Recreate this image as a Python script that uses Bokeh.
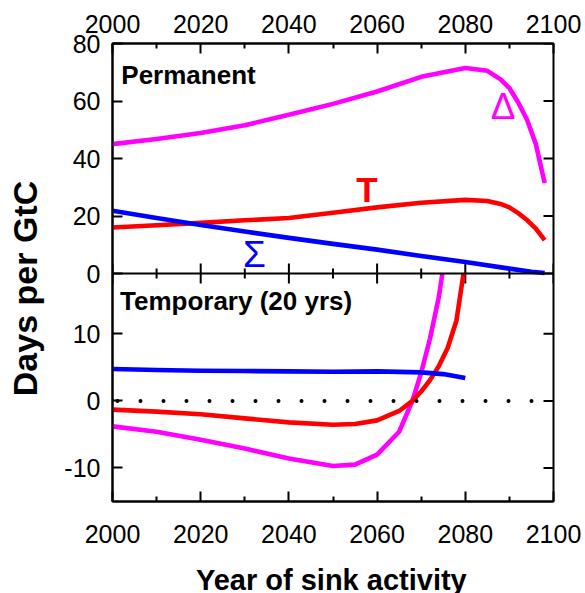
import math
from bokeh.plotting import figure
from bokeh.models import Range1d, LinearAxis, FixedTicker, Label, Span
from bokeh.layouts import row, column
from bokeh.embed import file_html
from bokeh.resources import INLINE

# ---------------- data ----------------
# Permanent panel
perm_delta_years = [2000, 2010, 2020, 2030, 2040, 2050, 2060, 2070, 2080, 2085, 2088, 2090, 2092, 2094, 2096, 2098]
perm_delta_vals = [45.0, 46.8, 48.9, 51.6, 55.2, 59.0, 63.3, 68.4, 71.5, 70.5, 67.5, 64.5, 59.5, 53.5, 45.0, 31.5]

perm_T_years = [2000, 2010, 2020, 2030, 2040, 2050, 2060, 2070, 2080, 2085, 2088, 2090, 2092, 2094, 2096, 2098]
perm_T_vals = [16.0, 16.8, 17.6, 18.5, 19.3, 21.1, 23.0, 24.6, 25.6, 25.2, 24.2, 23.0, 21.0, 18.6, 15.6, 11.6]

perm_sigma_years = [2000, 2010, 2020, 2030, 2040, 2050, 2060, 2070, 2080, 2090, 2095, 2098]
perm_sigma_vals = [21.8, 19.3, 16.9, 14.6, 12.4, 10.3, 8.3, 6.1, 4.0, 1.7, 0.6, 0.2]

# Temporary (20 yrs) panel
temp_sigma_years = [2000, 2010, 2020, 2030, 2040, 2050, 2060, 2070, 2075, 2080]
temp_sigma_vals = [4.75, 4.6, 4.5, 4.45, 4.4, 4.35, 4.4, 4.25, 4.0, 3.4]

temp_T_years = [2000, 2010, 2020, 2030, 2040, 2050, 2055, 2060, 2065, 2068, 2070, 2072, 2074, 2076, 2078, 2079.6]
temp_T_vals = [-1.3, -1.6, -2.0, -2.6, -3.2, -3.55, -3.45, -2.9, -1.5, 0.0, 1.4, 3.1, 5.2, 7.9, 12.0, 19.0]

temp_delta_years = [2000, 2010, 2020, 2030, 2040, 2050, 2055, 2060, 2065, 2068, 2070, 2072, 2074, 2074.8]
temp_delta_vals = [-3.8, -4.6, -5.8, -7.1, -8.6, -9.7, -9.5, -8.0, -4.6, 0.0, 4.2, 9.3, 15.5, 19.0]

zero_line_years = [2000, 2100]
zero_line_vals = [0, 0]

x_min, x_max = 2000, 2100
x_ticks = [2000, 2020, 2040, 2060, 2080, 2100]
x_minor_ticks = [2010, 2030, 2050, 2070, 2090]
perm_min, perm_max = 0, 80
perm_y_ticks = [0, 20, 40, 60, 80]
temp_min, temp_max = -15, 19
temp_y_ticks = [-10, 0, 10]

MAGENTA = "#ff00ff"
RED = "#ff0000"
BLUE = "#0000ff"
FONT = "Liberation Sans"
LW = 4.6

# panel heights in px (both panels share one frame)
H_TOP, H_BOT = 230, 228
perm_per_px = (perm_max - perm_min) / H_TOP
temp_per_px = (temp_max - temp_min) / H_BOT

W_YLAB = 50
BORDER_L, BORDER_R, BORDER_T, BORDER_B = 62, 32, 43, 60
FRAME_W = 441
MAIN_H = BORDER_T + H_TOP + H_BOT + BORDER_B
XLAB_H = 593 - MAIN_H


def temp_to_perm(v):
    return round(perm_min - (temp_max - v) / temp_per_px * perm_per_px, 6)


p = figure(frame_width=FRAME_W, frame_height=H_TOP + H_BOT,
           x_range=Range1d(x_min, x_max),
           y_range=Range1d(perm_min - H_BOT * perm_per_px, perm_max),
           output_backend="svg", toolbar_location=None,
           x_axis_location="below",
           min_border_left=BORDER_L, min_border_right=BORDER_R,
           min_border_top=BORDER_T, min_border_bottom=BORDER_B)
p.extra_y_ranges = {"temp": Range1d(temp_min, temp_max + H_TOP * temp_per_px)}
p.xgrid.visible = False
p.ygrid.visible = False
p.outline_line_color = "black"
p.outline_line_width = 2
p.outline_line_alpha = 1
p.background_fill_color = "white"
p.border_fill_color = "white"


def style_axis(ax, ticks, minor, standoff):
    ax.ticker = FixedTicker(ticks=ticks, minor_ticks=minor)
    ax.major_tick_in = 10
    ax.major_tick_out = 0
    ax.minor_tick_in = 5
    ax.minor_tick_out = 0
    ax.major_tick_line_width = 2
    ax.minor_tick_line_width = 2
    ax.major_tick_line_color = "black"
    ax.minor_tick_line_color = "black"
    ax.axis_line_color = "black"
    ax.axis_line_width = 2
    ax.major_label_text_font = FONT
    ax.major_label_text_color = "black"
    ax.major_label_text_font_size = "25px"
    ax.major_label_standoff = standoff


# bottom x axis
style_axis(p.xaxis[0], x_ticks, x_minor_ticks, 23)

# top x axis
ax_top = LinearAxis()
style_axis(ax_top, x_ticks, x_minor_ticks, 11)
p.add_layout(ax_top, "above")

# left y axis: permanent ticks + temporary ticks mapped through the scales
left_ticks = perm_y_ticks + [temp_to_perm(v) for v in temp_y_ticks]
style_axis(p.yaxis[0], left_ticks, [], 12)
p.yaxis[0].major_label_overrides = {temp_to_perm(v): str(v) for v in temp_y_ticks}

# boundary between panels
p.add_layout(Span(location=perm_min, dimension="width", line_color="black", line_width=2))

# mirrored ticks at the panel boundary and on the right edge
p.scatter(x_ticks, [perm_min] * len(x_ticks), marker="dash", angle=math.pi / 2, size=20,
          line_color="black", line_width=2)
p.scatter(x_minor_ticks, [perm_min] * len(x_minor_ticks), marker="dash", angle=math.pi / 2, size=10,
          line_color="black", line_width=2)
p.scatter([x_max] * len(left_ticks), left_ticks, marker="dash", size=20,
          line_color="black", line_width=2)

# permanent curves
p.line(perm_delta_years, perm_delta_vals, line_color=MAGENTA, line_width=LW, line_join="round")
p.line(perm_T_years, perm_T_vals, line_color=RED, line_width=LW, line_join="round")
p.line(perm_sigma_years, perm_sigma_vals, line_color=BLUE, line_width=LW, line_join="round")

# temporary curves
p.line(temp_delta_years, temp_delta_vals, y_range_name="temp", line_color=MAGENTA, line_width=LW, line_join="round")
p.line(temp_T_years, temp_T_vals, y_range_name="temp", line_color=RED, line_width=LW, line_join="round")
p.line(temp_sigma_years, temp_sigma_vals, y_range_name="temp", line_color=BLUE, line_width=LW, line_join="round")
p.line(zero_line_years, zero_line_vals, y_range_name="temp", line_color="black", line_width=4,
       line_dash="0 23", line_dash_offset=18, line_cap="round")

# annotations
p.add_layout(Label(x=2002, y=68.9, text="Permanent", text_font=FONT, text_font_style="bold",
                   text_font_size="26px", text_color="black", text_baseline="alphabetic"))
p.add_layout(Label(x=2032.2, y=6.5, text="Σ", text_font=FONT, text_font_size="37px",
                   text_color=BLUE, text_align="center", text_baseline="alphabetic"))
p.add_layout(Label(x=2057.7, y=29.1, text="T", text_font=FONT, text_font_style="bold",
                   text_font_size="35px", text_color=RED, text_align="center", text_baseline="alphabetic"))
p.add_layout(Label(x=2088.6, y=58.1, text="Δ", text_font=FONT, text_font_size="37px",
                   text_color=MAGENTA, text_align="center", text_baseline="alphabetic"))
p.add_layout(Label(x=2001.7, y=14.9, y_range_name="temp", text="Temporary (20 yrs)", text_font=FONT,
                   text_font_style="bold", text_font_size="26px", text_color="black",
                   text_baseline="alphabetic"))


def blank_fig(w, h):
    f = figure(width=w, height=h, x_range=Range1d(0, w), y_range=Range1d(0, h),
               output_backend="svg", toolbar_location=None,
               min_border_left=0, min_border_right=0, min_border_top=0, min_border_bottom=0)
    f.axis.visible = False
    f.xgrid.visible = False
    f.ygrid.visible = False
    f.outline_line_color = None
    f.background_fill_color = "white"
    f.border_fill_color = "white"
    return f


# ---------------- y label ----------------
pl = blank_fig(W_YLAB, 593)
pl.add_layout(Label(x=24.5, y=593 - 288, text="Days per GtC", angle=math.pi / 2, text_font=FONT,
                    text_font_style="bold", text_font_size="34px", text_color="black",
                    text_align="center", text_baseline="middle"))

# ---------------- x label ----------------
main_w = BORDER_L + FRAME_W + BORDER_R
px_ = blank_fig(main_w, XLAB_H)
px_.add_layout(Label(x=BORDER_L + FRAME_W / 2 - 17, y=XLAB_H - 18, text="Year of sink activity",
                     text_font=FONT, text_font_style="bold", text_font_size="29px", text_color="black",
                     text_align="center", text_baseline="alphabetic"))

layout = row(pl, column(p, px_))
open("out.html", "w").write(file_html(layout, INLINE))
